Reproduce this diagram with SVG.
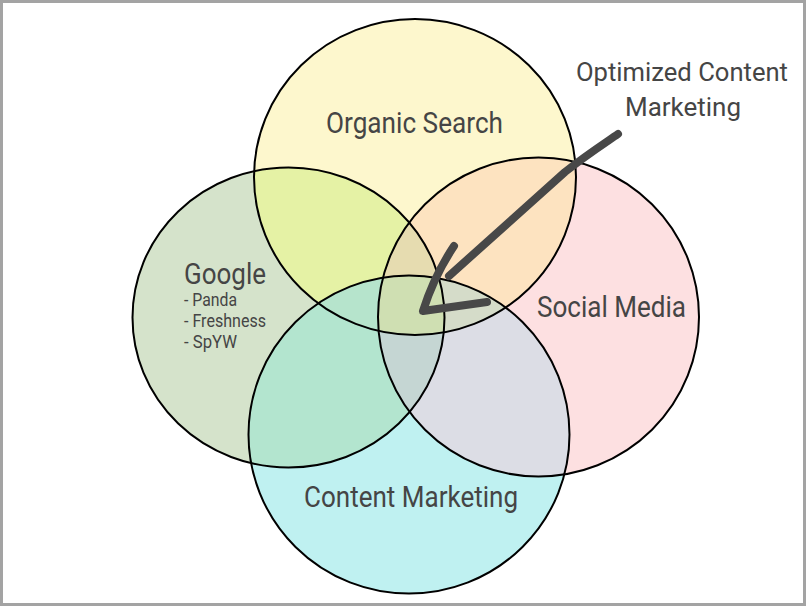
<svg xmlns="http://www.w3.org/2000/svg" xmlns:xlink="http://www.w3.org/1999/xlink" width="806" height="606" viewBox="0 0 806 606">
  <style>
    .lbl { font-family: Roboto, "Liberation Sans", sans-serif; fill: #454545; }
    .big { font-size: 29px; }
    .sub { font-size: 17.5px; }
    .outline { fill: none; stroke: #000; stroke-width: 2; }
    .arrow { fill: none; stroke: #484848; stroke-width: 8; stroke-linecap: round; stroke-linejoin: round; }
  </style>
  <defs>
    <ellipse id="shapeO" cx="415" cy="177" rx="161" ry="158"/>
    <ellipse id="shapeG" cx="288.5" cy="317.5" rx="156" ry="150"/>
    <ellipse id="shapeS" cx="538.5" cy="317" rx="160.5" ry="159.5"/>
    <ellipse id="shapeC" cx="409" cy="434.5" rx="160.5" ry="159"/>
    <clipPath id="cO"><use xlink:href="#shapeO"/></clipPath>
    <clipPath id="cG"><use xlink:href="#shapeG"/></clipPath>
    <clipPath id="cS"><use xlink:href="#shapeS"/></clipPath>
    <clipPath id="cC"><use xlink:href="#shapeC"/></clipPath>
  </defs>

  <rect x="0" y="0" width="806" height="606" fill="#ffffff"/>
  <rect x="1.5" y="1.5" width="803" height="603" fill="none" stroke="#a3a3a3" stroke-width="3"/>

  <g id="node-organic-search">
    <use xlink:href="#shapeO" fill="#fdf7cd"/>
  </g>
  <g id="node-google">
    <use xlink:href="#shapeG" fill="#d5e3cb"/>
  </g>
  <g id="node-social-media">
    <use xlink:href="#shapeS" fill="#fde0e1"/>
  </g>
  <g id="node-content-marketing">
    <use xlink:href="#shapeC" fill="#bff1f1"/>
  </g>

  <g id="overlaps">
    <use xlink:href="#shapeG" fill="#e5f2a5" clip-path="url(#cO)"/>
    <use xlink:href="#shapeS" fill="#fde3c0" clip-path="url(#cO)"/>
    <use xlink:href="#shapeC" fill="#b3e5cf" clip-path="url(#cG)"/>
    <use xlink:href="#shapeC" fill="#dcdde5" clip-path="url(#cS)"/>
    <g clip-path="url(#cO)"><use xlink:href="#shapeS" fill="#e6dcb0" clip-path="url(#cG)"/></g>
    <g clip-path="url(#cO)"><use xlink:href="#shapeC" fill="#b6e4cc" clip-path="url(#cG)"/></g>
    <g clip-path="url(#cO)"><use xlink:href="#shapeC" fill="#d5dcc9" clip-path="url(#cS)"/></g>
    <g clip-path="url(#cG)"><use xlink:href="#shapeC" fill="#c5d6d3" clip-path="url(#cS)"/></g>
    <g clip-path="url(#cO)"><g clip-path="url(#cG)"><use xlink:href="#shapeC" fill="#cfdfb2" clip-path="url(#cS)"/></g></g>
  </g>

  <g id="outlines">
    <use xlink:href="#shapeO" class="outline"/>
    <use xlink:href="#shapeG" class="outline"/>
    <use xlink:href="#shapeS" class="outline"/>
    <use xlink:href="#shapeC" class="outline"/>
  </g>

  <g id="labels">
    <text class="lbl big" x="326" y="133" textLength="177" lengthAdjust="spacingAndGlyphs">Organic Search</text>
    <text class="lbl big" x="184" y="284" textLength="82" lengthAdjust="spacingAndGlyphs">Google</text>
    <text class="lbl sub" x="184" y="306" textLength="53" lengthAdjust="spacingAndGlyphs">- Panda</text>
    <text class="lbl sub" x="184" y="327" textLength="82" lengthAdjust="spacingAndGlyphs">- Freshness</text>
    <text class="lbl sub" x="184" y="348" textLength="53" lengthAdjust="spacingAndGlyphs">- SpYW</text>
    <text class="lbl big" x="537" y="317" textLength="149" lengthAdjust="spacingAndGlyphs">Social Media</text>
    <text class="lbl big" x="304" y="507" textLength="214" lengthAdjust="spacingAndGlyphs">Content Marketing</text>
  </g>

  <g id="callout-optimized">
    <text class="lbl" font-size="26" x="576" y="81" textLength="212" lengthAdjust="spacingAndGlyphs">Optimized Content</text>
    <text class="lbl" font-size="26" x="625" y="116" textLength="116" lengthAdjust="spacingAndGlyphs">Marketing</text>
  </g>

  <g id="connectors">
    <path class="arrow" d="M618,134 C602,145 585,156 565,172 L449,276"/>
    <path class="arrow" d="M454,246 Q434,276 423,311 L487,302"/>
  </g>
</svg>
